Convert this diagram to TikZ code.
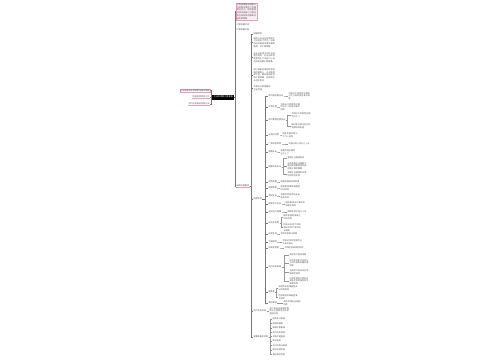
\documentclass[tikz,border=0pt]{standalone}
\usepackage{fontspec}
\newfontfamily\cjk{Noto Sans CJK SC}
\XeTeXlinebreaklocale "zh"
\XeTeXlinebreakskip=0pt plus 0.5pt
\definecolor{pinkc}{RGB}{226,160,190}
\definecolor{pinkf}{RGB}{252,238,245}
\definecolor{lnc}{RGB}{150,150,150}
\definecolor{lnd}{RGB}{120,120,120}
\definecolor{txc}{RGB}{85,85,85}
\tikzset{
 t/.style={font=\cjk\fontsize{2.1}{2.7}\selectfont, text=txc, inner sep=0.3pt, anchor=west, align=left},
 blk/.style={t, text width=#1},
 ln/.style={draw=lnc, line width=0.3pt},
 lnm/.style={draw=lnd, line width=0.4pt},
 ulp/.style={draw=pinkc, line width=0.45pt},
}
\newcommand\mmconn[3]{\draw[ln] (#1.east) -- ++(#3,0) |- (#2.west);}
\newcommand\mmconnm[3]{\draw[lnm] (#1.east) -- ++(#3,0) |- (#2.west);}
\begin{document}
\begin{tikzpicture}[x=1pt,y=-1pt]
\fill[white] (0,0) rectangle (500,360);
\useasboundingbox (0,0) rectangle (500,360);

% root
\node[t, fill=black, text=white, minimum width=22pt, minimum height=5pt, align=center] (R) at (212,97) {企业所得税汇算清缴};

% left
\node[t, anchor=east, draw=pinkc, line width=0.3pt] (L1) at (210,90.5) {企业所得税年度纳税申报表填报};
\node[t, anchor=east] (L2) at (210,97) {税前扣除项目汇总};
\node[t, anchor=east] (L3) at (210,104) {资产损失税前扣除办法};
\draw[ulp] (L2.south west) -- (L2.south east);
\draw[ulp] (L3.south west) -- (L3.south east);
\foreach \n in {L1,L2,L3}{\draw[lnm] (R.west) -- ++(-1,0) |- (\n.east);}

% right level 1
\node[blk=20pt, draw=pinkc, fill=pinkf, line width=0.3pt, inner sep=0.6pt] (A1) at (236,11.5) {汇算清缴是指纳税人在纳税年度终了后规定时间内，依照税收法律法规自行计算全年应纳税所得额和应纳所得税额。};
\node[t] (A2) at (236,25) {汇算清缴时间};
\node[t] (A3) at (236,30) {汇算清缴对象};
\node[t] (B) at (236,186) {具体申报事项};
\draw[ulp] (B.south west) -- (B.south east);
\foreach \n in {A1,A2,A3,B}{\mmconnm{R}{\n}{1}}

% B children
\node[t] (b1) at (253,34) {申报期限};
\node[blk=22pt] (b2) at (253,42.5) {纳税人应当在年度终了之日起五个月内，向税务机关报送年度纳税申报表，并汇算清缴。};
\node[blk=22pt] (b3) at (253,57.5) {企业在年度中间终止经营活动的，应当自实际经营终止之日起六十日内办理当期汇算清缴。};
\node[blk=22pt] (b4) at (253,75) {实行查账征收和核定征收的纳税人，无论盈利或亏损，都应按规定参加汇算清缴，减免税企业也应参加};
\node[blk=17pt] (b5) at (253,88.5) {不参加汇算清缴的企业范围};
\node[t] (C) at (253,199) {扣除项目};
\node[t] (D) at (253,311) {资产损失扣除};
\node[t] (E) at (253,337) {需要准备的资料};
\foreach \n in {b1,b2,b3,b4,b5,C,D,E}{\mmconnm{B}{\n}{1.2}}

\node[blk=20pt] (D1) at (269,311) {资产损失应按规定程序向主管税务机关申报后扣除};
\mmconn{D}{D1}{1}

\foreach \y/\s [count=\i] in {319/财务会计报表,323.4/纳税申报表,327.8/税收优惠备案,332.2/资产损失清单,336.6/关联交易报告,341/审计报告,345.4/总分机构分配表,349.8/境外所得资料,354.2/其他相关资料}{
  \node[t] (e\i) at (272,\y) {\s};
}
\foreach \i in {1,...,9}{\mmconn{E}{e\i}{1.2}}

% C children
\node[t] (c1) at (268,96) {职工福利费支出};
\node[t] (c2) at (268,107) {工会经费};
\node[t] (c3) at (268,120) {职工教育经费支出};
\node[t] (c4) at (268,135) {业务招待费};
\node[t] (c5) at (268,144) {广告和宣传费};
\node[t] (c6) at (268,152) {捐赠支出};
\node[t] (c7) at (268,167) {借款利息支出};
\node[t] (c8) at (268,182) {保险费用};
\node[t] (c9) at (268,188) {租赁费用};
\node[t] (c10) at (268,196) {劳保支出};
\node[t] (c11) at (268,204) {固定资产折旧};
\node[t] (c12) at (268,212) {无形资产摊销};
\node[t] (c13) at (268,223) {研究开发费};
\node[t] (c14) at (268,234) {环保专项};
\node[t] (c15) at (268,242) {手续佣金};
\node[t] (c16) at (268,248) {跨年度费用};
\node[t] (c17) at (268,267) {资产损失扣除};
\node[t] (c18) at (268,292) {准备金};
\node[t] (c19) at (268,303) {其他事项};
\foreach \i in {1,...,19}{\mmconnm{C}{c\i}{2.5}}

% C grandchildren
\node[blk=22pt] (c1a) at (288,96) {不超过工资薪金总额百分之十四的部分准予扣除};
\node[blk=20pt] (c2a) at (280,107) {不超过工资薪金总额百分之二的部分准予扣除};
\node[blk=19pt] (c3a) at (291,115) {不超过工资薪金总额百分之八};
\node[blk=19pt] (c3b) at (291,126) {超过部分准予在以后年度结转扣除};
\node[blk=16pt] (c4a) at (282,135) {按发生额的百分之六十扣除};
\node[t] (c5a) at (288,144) {不超过收入百分之十五};
\node[blk=15pt] (c6a) at (280,152) {年度利润总额百分之十二};
\node[blk=19pt] (c7a) at (287,158) {金融企业借款利息};
\node[blk=19pt] (c7b) at (287,166) {向非金融企业借款不超过按同期同类贷款利率计算的数额};
\node[blk=19pt] (c7c) at (287,174) {关联企业借款利息需符合债资比例};
\node[t] (c8a) at (280,182) {按规定缴纳的保险费};
\node[blk=20pt] (c9a) at (280,188) {经营租赁按租赁期限均匀扣除};
\node[blk=20pt] (c10a) at (280,196) {合理的劳动保护支出准予扣除};
\node[blk=20pt] (c11a) at (285,204) {按照直线法计算的折旧准予扣除};
\node[t] (c12a) at (287,212) {摊销年限不低于十年};
\node[blk=18pt] (c13a) at (283,217) {据实扣除的基础上加计扣除};
\node[blk=18pt] (c13b) at (283,227.5) {形成无形资产的按照无形资产成本加计摊销};
\node[t] (c14a) at (280,234) {专项资金准予扣除};
\node[blk=20pt] (c15a) at (282,242) {不超过合同金额百分之五的部分};
\node[t] (c16a) at (284,248) {不得提前或滞后扣除};
\node[blk=19pt] (c17a) at (289,255) {实际资产损失申报};
\node[blk=19pt] (c17b) at (289,263) {应在实际发生且会计上已作损失处理年度扣除};
\node[blk=19pt] (c17c) at (289,272.5) {法定资产损失应在申报年度扣除};
\node[blk=19pt] (c17d) at (289,281) {以前年度资产损失可追补至该项损失发生年度扣除};
\node[blk=19pt] (c18a) at (278,288) {未经核定的准备金支出不得扣除};
\node[blk=19pt] (c18b) at (278,297) {符合规定的准备金准予扣除};
\node[blk=18pt] (c19a) at (283,303) {其他合理支出据实扣除};

\mmconn{c1}{c1a}{1.2}
\mmconn{c2}{c2a}{1.2}
\mmconn{c3}{c3a}{1.5}
\mmconn{c3}{c3b}{1.5}
\mmconn{c4}{c4a}{1.2}
\mmconn{c5}{c5a}{1.2}
\mmconn{c6}{c6a}{1.2}
\mmconn{c7}{c7a}{1.5}
\mmconn{c7}{c7b}{1.5}
\mmconn{c7}{c7c}{1.5}
\mmconn{c8}{c8a}{1.2}
\mmconn{c9}{c9a}{1.2}
\mmconn{c10}{c10a}{1.2}
\mmconn{c11}{c11a}{1.2}
\mmconn{c12}{c12a}{1.2}
\mmconn{c13}{c13a}{1.2}
\mmconn{c13}{c13b}{1.2}
\mmconn{c14}{c14a}{1.2}
\mmconn{c15}{c15a}{1.2}
\mmconn{c16}{c16a}{1.2}
\mmconn{c17}{c17a}{2.5}
\mmconn{c17}{c17b}{2.5}
\mmconn{c17}{c17c}{2.5}
\mmconn{c17}{c17d}{2.5}
\mmconn{c18}{c18a}{1.2}
\mmconn{c18}{c18b}{1.2}
\mmconn{c19}{c19a}{1.2}
\end{tikzpicture}
\end{document}
